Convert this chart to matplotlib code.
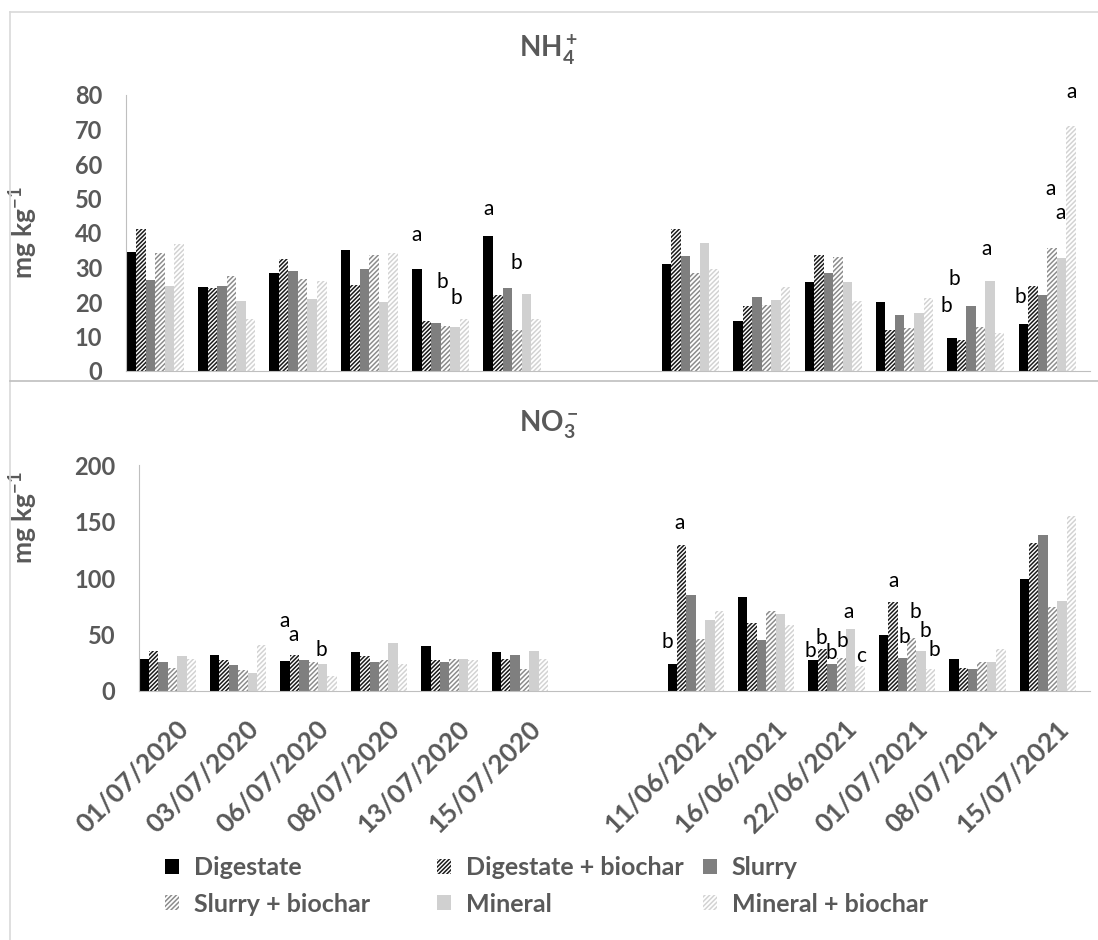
import matplotlib
matplotlib.use("Agg")
import matplotlib.pyplot as plt
from matplotlib.lines import Line2D
from matplotlib.transforms import ScaledTranslation
import numpy as np

plt.rcParams['font.family'] = ['Lato', 'DejaVu Sans']
plt.rcParams['mathtext.fontset'] = 'custom'
plt.rcParams['mathtext.rm'] = 'Lato:bold'
plt.rcParams['mathtext.bf'] = 'Lato:bold'
plt.rcParams['mathtext.default'] = 'bf'
plt.rcParams['hatch.linewidth'] = 1.1

dates = ["01/07/2020", "03/07/2020", "06/07/2020", "08/07/2020", "13/07/2020", "15/07/2020",
         "11/06/2021", "16/06/2021", "22/06/2021", "01/07/2021", "08/07/2021", "15/07/2021"]
treatments = ["Digestate", "Digestate + biochar", "Slurry", "Slurry + biochar", "Mineral", "Mineral + biochar"]

# NH4+ (mg kg-1)
nh4_digestate = [34.6, 24.4, 28.3, 35.1, 29.7, 39.1, 31.0, 14.5, 25.8, 19.9, 9.5, 13.5]
nh4_dig_bio = [41.2, 24.2, 32.4, 24.9, 14.6, 22.0, 41.2, 18.9, 33.6, 11.9, 9.0, 24.7]
nh4_slurry = [26.4, 24.6, 29.1, 29.5, 14.0, 24.2, 33.4, 21.4, 28.3, 16.1, 18.7, 22.0]
nh4_slurry_bio = [34.1, 27.5, 26.6, 33.6, 13.1, 11.9, 28.5, 19.1, 32.9, 12.4, 12.8, 35.6]
nh4_mineral = [24.7, 20.3, 20.8, 20.1, 12.7, 22.3, 37.0, 20.6, 25.8, 16.7, 26.0, 32.8]
nh4_mineral_bio = [36.8, 15.0, 26.2, 34.3, 15.0, 15.1, 29.6, 24.3, 20.4, 21.1, 11.1, 71.0]

# NO3- (mg kg-1)
no3_digestate = [28.4, 31.9, 26.3, 34.6, 40.2, 34.6, 23.6, 83.0, 27.1, 49.2, 28.0, 99.5]
no3_dig_bio = [35.4, 27.2, 31.6, 31.0, 27.8, 28.7, 129.5, 59.8, 36.8, 78.9, 20.0, 131.0]
no3_slurry = [25.7, 22.8, 27.8, 25.7, 25.7, 31.6, 84.7, 45.0, 23.6, 29.5, 19.1, 137.8]
no3_slurry_bio = [20.7, 18.3, 25.7, 27.8, 28.1, 19.2, 45.6, 70.6, 28.9, 47.1, 25.9, 74.5]
no3_mineral = [31.0, 16.0, 24.3, 42.9, 28.1, 35.8, 62.7, 68.3, 54.5, 35.3, 25.9, 80.0]
no3_mineral_bio = [28.1, 41.1, 13.0, 24.3, 27.2, 28.7, 70.6, 58.3, 22.1, 19.2, 37.4, 155.0]

# significance letters: (date index, bar slot, height, letter)
nh4_letters = [(4, 0, 39.4, 'a'), (4, 2.7, 25.8, 'b'), (4, 4.1, 21.2, 'b'),
               (5, 0, 47, 'a'), (5, 2.9, 31.3, 'b'),
               (10, -0.6, 18.8, 'b'), (10, 0.2, 26.7, 'b'), (10, 3.6, 35.4, 'a'),
               (11, -0.3, 21.4, 'b'), (11, 2.9, 52.8, 'a'), (11, 3.9, 45.8, 'a'), (11, 5.1, 80.9, 'a')]
no3_letters = [(2, -0.1, 62, 'a'), (2, 0.85, 49.4, 'a'), (2, 3.8, 36, 'b'),
               (6, -0.5, 43, 'b'), (6, 0.8, 149, 'a'),
               (8, -0.3, 35, 'b'), (8, 0.85, 46.5, 'b'), (8, 1.9, 33.2, 'b'), (8, 3.1, 44.6, 'b'),
               (8, 3.8, 69.5, 'a'), (8, 5.1, 30.6, 'c'),
               (9, 1.1, 97, 'a'), (9, 2.2, 48, 'b'), (9, 3.4, 69.5, 'b'), (9, 4.5, 52.7, 'b'), (9, 5.4, 36, 'b')]

grey = '#595959'
styles = [dict(facecolor='black', edgecolor='black'),
          dict(facecolor='white', edgecolor='#1a1a1a', hatch='////////'),
          dict(facecolor='#7f7f7f', edgecolor='#7f7f7f'),
          dict(facecolor='white', edgecolor='#8c8c8c', hatch='///////'),
          dict(facecolor='#d0d0d0', edgecolor='#d0d0d0'),
          dict(facecolor='white', edgecolor='#d3d3d3', hatch='///////')]

# 2020 and 2021 campaigns separated by a gap
pos = np.concatenate([np.arange(6), np.arange(6) + 7.5])
w = 0.8 / 6

fig = plt.figure(figsize=(10.98, 9.4), dpi=100)
ax1 = fig.add_axes([126 / 1098, 1 - 371 / 940, 964 / 1098, 276 / 940])
ax2 = fig.add_axes([139 / 1098, 1 - 691 / 940, 951 / 1098, 226 / 940])

panels = [(ax1, [nh4_digestate, nh4_dig_bio, nh4_slurry, nh4_slurry_bio, nh4_mineral, nh4_mineral_bio],
           nh4_letters, 80, 10),
          (ax2, [no3_digestate, no3_dig_bio, no3_slurry, no3_slurry_bio, no3_mineral, no3_mineral_bio],
           no3_letters, 200, 50)]

bars = []
for ax, series, letters, ymax, step in panels:
    bars = []
    for j, vals in enumerate(series):
        b = ax.bar(pos + (j - 2.5) * w, vals, w, linewidth=0, label=treatments[j], **styles[j])
        bars.append(b)
    for gi, slot, yv, letter in letters:
        ax.text(pos[gi] + (slot - 2.5) * w, yv, letter, ha='center', va='center', fontsize=15, color='black')
    ax.set_ylim(0, ymax)
    ax.set_xlim(-0.41, 13.1)
    ax.set_yticks(np.arange(0, ymax + 1, step))
    ax.tick_params(axis='y', length=0, pad=17, labelsize=17, labelcolor=grey)
    for lab in ax.get_yticklabels():
        lab.set_fontweight('bold')
    for s in ['top', 'right']:
        ax.spines[s].set_visible(False)
    ax.spines['left'].set_color('#bfbfbf')
    ax.spines['bottom'].set_color('#bfbfbf')
    ax.set_ylabel(r'mg kg$^{-1}$', fontsize=19, fontweight='bold', color=grey)

ax1.yaxis.set_label_coords(40 / 1098, 1 - 233 / 940, transform=fig.transFigure)
ax2.yaxis.set_label_coords(40 / 1098, 1 - 518 / 940, transform=fig.transFigure)

fig.text(0.5, 1 - 50 / 940, r'NH$_4^+$', ha='center', va='center', fontsize=20,
         fontweight='bold', color=grey)
fig.text(0.5, 1 - 425 / 940, r'NO$_3^-$', ha='center', va='center', fontsize=20,
         fontweight='bold', color=grey)

ax1.set_xticks(pos, [])
ax1.tick_params(axis='x', length=0)
ax2.set_xticks(pos, dates, rotation=45, ha='right', rotation_mode='anchor')
ax2.tick_params(axis='x', length=0, pad=18, labelsize=19, labelcolor=grey)
for lab in ax2.get_xticklabels():
    lab.set_fontweight('bold')
    lab.set_transform(lab.get_transform() + ScaledTranslation(0.08, 0, fig.dpi_scale_trans))

# legend: three columns placed like the original
leg_kw = dict(frameon=False, borderpad=0, borderaxespad=0, handlelength=0.55, handleheight=0.55,
              handletextpad=0.6, labelspacing=0.55, labelcolor=grey,
              prop={'family': 'Lato', 'weight': 'bold', 'size': 18})
for cols, xpx in [((0, 3), 165), ((1, 4), 437), ((2, 5), 703)]:
    fig.legend([bars[c] for c in cols], [treatments[c] for c in cols], loc='upper left',
               bbox_to_anchor=(xpx / 1098, 1 - 856 / 940), **leg_kw)

# frame lines of the original figure
frame = '#d9d9d9'
fig.add_artist(Line2D([10 / 1098, 10 / 1098], [0, 1 - 12 / 940], color=frame, lw=1.2))
fig.add_artist(Line2D([10 / 1098, 1], [1 - 12 / 940, 1 - 12 / 940], color=frame, lw=1.2))
fig.add_artist(Line2D([10 / 1098, 1], [1 - 381 / 940, 1 - 381 / 940], color='#bfbfbf', lw=1.2))

fig.savefig("out.png", dpi=100)
